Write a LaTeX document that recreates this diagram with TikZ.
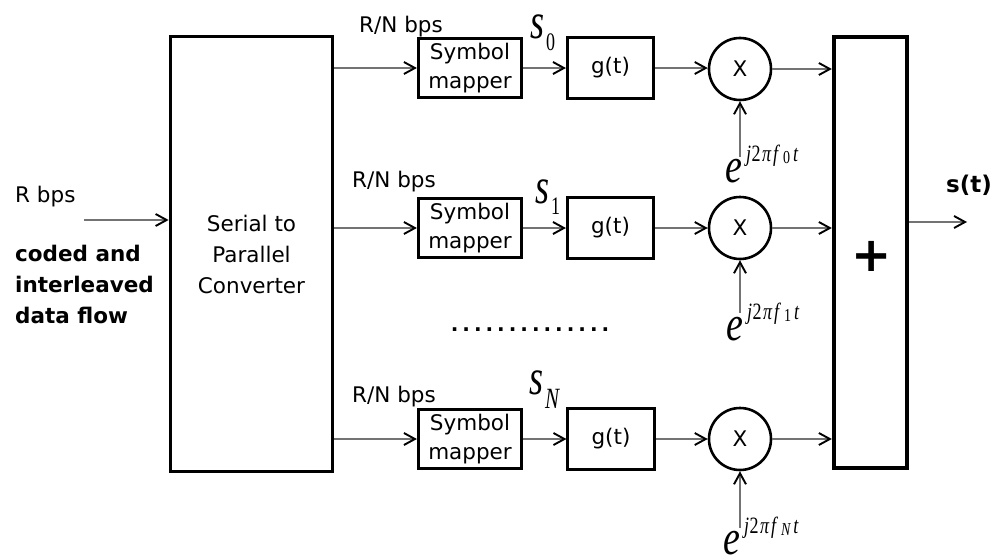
\documentclass[tikz,border=0pt]{standalone}
\usepackage[no-math]{fontspec}
\setmainfont{DejaVu Sans}
\newfontfamily\tms{Liberation Serif}
\usetikzlibrary{arrows.meta}

% carrier exponential e^{j2\pi f_k t}, set a little taller than wide
\newcommand\carrier[1]{\scalebox{1}[1.3]{{\tms\fontsize{38}{38}\selectfont\itshape e}\kern4pt\raisebox{15.4pt}{\tms\fontsize{18}{18}\selectfont\itshape j\kern0.5pt\upshape 2\kern1.5pt\itshape π\kern2pt f\kern5pt\raisebox{-1pt}{\fontsize{14}{14}\selectfont #1}\kern3pt t}}}
% symbol label s_k
\newcommand\symlabel[2]{\scalebox{1}[1.4]{{\tms\fontsize{36}{36}\selectfont\itshape s}\kern2pt\raisebox{-#2}{\tms\fontsize{18}{18}\selectfont #1}}}

\begin{document}
\begin{tikzpicture}[x=1pt,y=-1pt,
  txt/.style={font=\fontsize{21.5}{29}\selectfont, inner sep=0pt},
  mapbox/.style={draw, line width=3.2pt, minimum width=103pt, minimum height=59pt, align=center, txt},
  gbox/.style={draw, line width=2.6pt, minimum width=86.5pt, minimum height=60.5pt, txt},
  mul/.style={circle, draw, line width=2.6pt, minimum size=62pt, txt},
  arr/.style={draw=black!55, line width=1.5pt, -{Straight Barb[length=11pt,width=12pt,line width=1.9pt,color=black]}},
  lbl/.style={txt, anchor=base west}
]
\useasboundingbox (0,0) rectangle (1006,554);

% serial to parallel converter and summing block
\node[draw, line width=3.8pt, minimum width=162pt, minimum height=435pt, align=center, inner sep=0pt,
      font=\fontsize{21.5}{31}\selectfont] (sp) at (251.5,254) {Serial to\\Parallel\\Converter};
\node[draw, line width=3.8pt, minimum width=73.5pt, minimum height=431.5pt, inner sep=0pt] (sum) at (870.5,252.5) {};
\node[inner sep=0pt, font=\fontsize{48}{48}\selectfont\bfseries] (plus) at (872,256) {+};

% input
\coordinate (in) at (84,220);
\draw[arr] (in) -- (in -| sp.west);
\node[lbl] (rbps) at (15,202) {R bps};
\node[txt, anchor=west, align=left, font=\fontsize{21.5}{31}\selectfont\bfseries] (flow) at (15,284)
  {coded and\\interleaved\\data flow};

% branch 0
\node[mapbox] (m0) at (470,68) {Symbol\\mapper};
\node[gbox] (g0) at (610.5,68) {g(t)};
\node[mul] (c0) at (740,69) {X};
\draw[arr] (sp.east |- m0) -- (m0.west);
\draw[arr] (m0) -- (g0);
\draw[arr] (g0) -- (g0 -| c0.west);
\draw[arr] (c0) -- (c0 -| sum.west);
\coordinate (e0) at (740,157);
\draw[arr] (e0) -- (c0);
\node[lbl] (rn0) at (359,32) {R/N bps};
\node[inner sep=0pt, anchor=base west] (s0) at (530,38) {\symlabel{0}{9pt}};
\node[inner sep=0pt, anchor=base west] (x0) at (725,182) {\carrier{\upshape 0}};

% branch 1
\node[mapbox] (m1) at (470,228) {Symbol\\mapper};
\node[gbox] (g1) at (610.5,228) {g(t)};
\node[mul] (c1) at (740,228) {X};
\draw[arr] (sp.east |- m1) -- (m1.west);
\draw[arr] (m1) -- (g1);
\draw[arr] (g1) -- (c1);
\draw[arr] (c1) -- (c1 -| sum.west);
\coordinate (e1) at (740,313);
\draw[arr] (e1) -- (c1);
\node[lbl] (rn1) at (352,187) {R/N bps};
\node[inner sep=0pt, anchor=base west] (s1) at (535,203) {\symlabel{1}{8.5pt}};
\node[inner sep=0pt, anchor=base west] (x1) at (726,340) {\carrier{\upshape 1}};

% omitted branches
\node[inner sep=0pt, font=\fontsize{20}{20}\selectfont\bfseries] (dots) at (530,330)
  {.\kern4pt.\kern4pt.\kern4pt.\kern4pt.\kern4pt.\kern4pt.\kern4pt.\kern4pt.\kern4pt.\kern4pt.\kern4pt.\kern4pt.\kern4pt.};

% branch N
\node[mapbox] (mN) at (470,439) {Symbol\\mapper};
\node[gbox] (gN) at (611,439) {g(t)};
\node[mul] (cN) at (740,439) {X};
\draw[arr] (sp.east |- mN) -- (mN.west);
\draw[arr] (mN) -- (gN);
\draw[arr] (gN) -- (cN);
\draw[arr] (cN) -- (cN -| sum.west);
\coordinate (eN) at (740,528);
\draw[arr] (eN) -- (cN);
\node[lbl] (rnN) at (352,402) {R/N bps};
\node[inner sep=0pt, anchor=base west] (sN) at (529,394) {\symlabel{\itshape\fontsize{21}{21}\selectfont N}{10.5pt}};
\node[inner sep=0pt, anchor=base west] (xN) at (723,554) {\carrier{\itshape N}};

% output
\coordinate (out) at (967,222);
\draw[arr] (sum.east |- out) -- (out);
\node[lbl, font=\fontsize{23}{29}\selectfont\bfseries] (st) at (946,192) {s(t)};
\end{tikzpicture}
\end{document}
